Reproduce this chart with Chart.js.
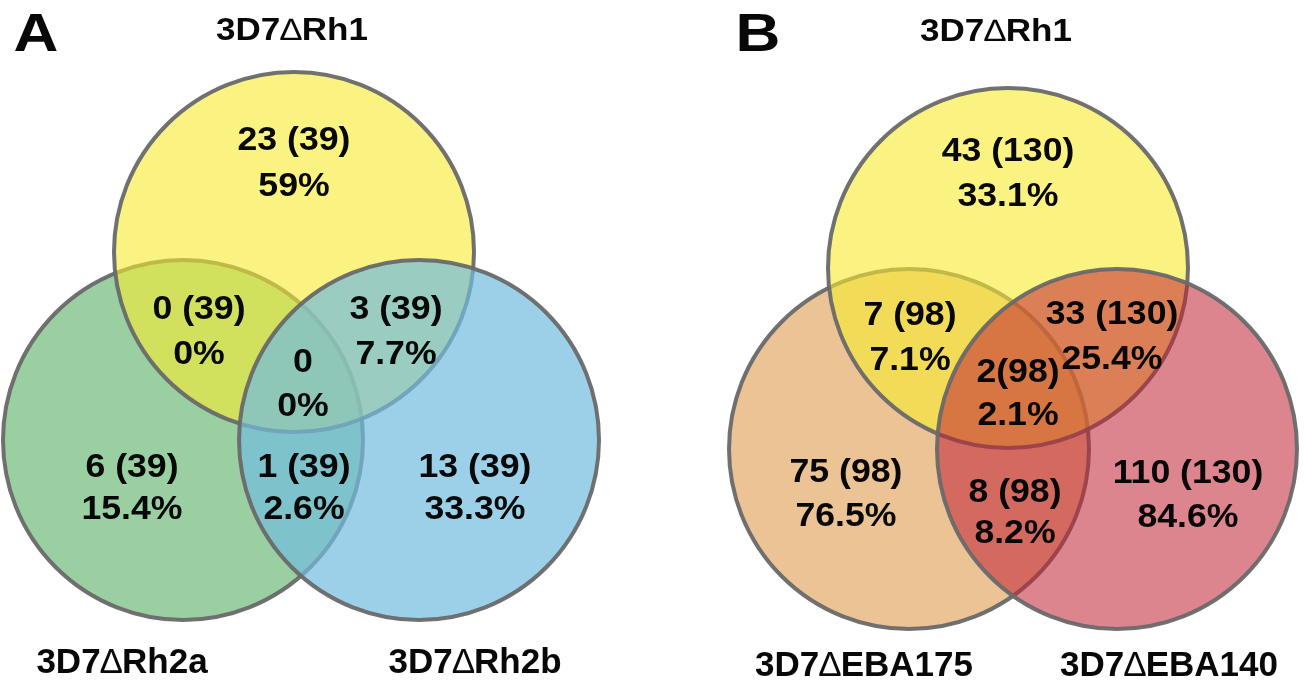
<!DOCTYPE html>
<html>
<head>
<meta charset="utf-8">
<script src="https://cdn.jsdelivr.net/npm/chart.js@4"></script>
<style>
  html, body { margin: 0; padding: 0; background: #fff; }
  #wrap { width: 1305px; height: 686px; }
</style>
</head>
<body>
<div id="wrap"><canvas id="venn"></canvas></div>
<script>
// set names: top, left, right
const setsA = ['3D7∆Rh1', '3D7∆Rh2a', '3D7∆Rh2b'];
const setsB = ['3D7∆Rh1', '3D7∆EBA175', '3D7∆EBA140'];

// regions: top only, top+left, top+right, all three, left only, left+right, right only
const countsA = [23, 0, 3, 0, 6, 1, 13];
const totalsA = [39, 39, 39, null, 39, 39, 39];
const percentA = ['59%', '0%', '7.7%', '0%', '15.4%', '2.6%', '33.3%'];

const countsB = [43, 7, 33, 2, 75, 8, 110];
const totalsB = [130, 98, 130, 98, 98, 98, 130];
const percentB = ['33.1%', '7.1%', '25.4%', '2.1%', '76.5%', '8.2%', '84.6%'];

// layout (chart units = canvas px, via hidden linear scales)
const R = 180;
const FONT = '"Liberation Sans", Arial, Helvetica, sans-serif';
const panels = [
  {
    letter: 'A', letterAt: [36, 32],
    sets: setsA, counts: countsA, totals: totalsA, pct: percentA,
    centers: [[294, 252], [183, 440], [419, 440]],
    fills: ['rgba(247,235,47,0.6)', 'rgb(154,207,162)', 'rgba(114,188,222,0.7)'],
    nameAt: [[292, 29], [122, 660], [475, 660]],
    textAt: [[294, 138, 184], [199, 307, 352], [396, 307, 352], [303, 360, 404],
             [132, 465, 507], [304, 465, 507], [475, 465, 507]],
    gap: ' '
  },
  {
    letter: 'B', letterAt: [758, 32],
    sets: setsB, counts: countsB, totals: totalsB, pct: percentB,
    centers: [[1008, 268], [909, 449], [1117, 449]],
    fills: ['rgba(247,235,47,0.6)', 'rgb(235,195,148)', 'rgba(193,33,51,0.55)'],
    nameAt: [[996, 30], [864, 663], [1169, 663]],
    textAt: [[1008, 149, 194], [910, 313, 358], [1112, 312, 357], [1018, 370, 413],
             [846, 470, 514], [1015, 490, 531], [1188, 471, 515]],
    gap: ' '
  }
];

// one scatter point per circle, radius taken from the x scale
const datasets = [];
panels.forEach(p => {
  p.centers.forEach((c, i) => {
    datasets.push({
      label: p.sets[i],
      data: [{ x: c[0], y: c[1] }],
      order: [2, 3, 1][i],
      pointStyle: 'circle',
      pointRadius: ctx => {
        const s = ctx.chart.scales.x;
        return s.getPixelForValue(R) - s.getPixelForValue(0);
      },
      pointBackgroundColor: p.fills[i],
      pointBorderColor: 'rgba(105,105,105,0.95)',
      pointBorderWidth: 4,
      clip: false
    });
  });
});

function drawText(ctx, parts, x, y, size, stretch) {
  ctx.save();
  let w = 0;
  parts.forEach(p => {
    ctx.font = p[1] + ' ' + size + 'px ' + FONT;
    p.push(ctx.measureText(p[0]).width);
    w += p[2];
  });
  ctx.translate(x, y + size * 0.358);
  ctx.scale(stretch, 1);
  ctx.fillStyle = '#080808';
  ctx.textBaseline = 'alphabetic';
  ctx.textAlign = 'left';
  let cx = -w / 2;
  parts.forEach(p => {
    ctx.font = p[1] + ' ' + size + 'px ' + FONT;
    ctx.fillText(p[0], cx, 0);
    cx += p[2];
  });
  ctx.restore();
}

function nameParts(name) {
  const bits = name.split('∆');
  return [[bits[0], 'bold'], ['∆', 'normal'], [bits[1], 'bold']];
}

const vennLabels = {
  id: 'vennLabels',
  afterDatasetsDraw(chart) {
    const ctx = chart.ctx;
    const sx = chart.scales.x, sy = chart.scales.y;
    panels.forEach(p => {
      drawText(ctx, [[p.letter, 'bold']], sx.getPixelForValue(p.letterAt[0]), sy.getPixelForValue(p.letterAt[1]), 54, 1.15);
      p.sets.forEach((name, i) => {
        const at = p.nameAt[i];
        drawText(ctx, nameParts(name), sx.getPixelForValue(at[0]), sy.getPixelForValue(at[1]),
          i === 0 ? 31 : 35, i === 0 ? 1.13 : 1.0);
      });
      p.counts.forEach((n, i) => {
        const at = p.textAt[i];
        let line1 = String(n);
        // the triple overlap of panel B is printed without a space
        if (p.totals[i] !== null) line1 += (p.letter === 'B' && i === 3 ? '' : p.gap) + '(' + p.totals[i] + ')';
        const x = sx.getPixelForValue(at[0]);
        drawText(ctx, [[line1, 'bold']], x, sy.getPixelForValue(at[1]), 33, 1.08);
        drawText(ctx, [[p.pct[i], 'bold']], x, sy.getPixelForValue(at[2]), 33, 1.08);
      });
    });
  }
};

new Chart(document.getElementById('venn'), {
  type: 'scatter',
  data: { datasets: datasets },
  options: {
    responsive: true,
    maintainAspectRatio: false,
    animation: false,
    events: [],
    layout: { padding: 0 },
    plugins: { legend: { display: false }, tooltip: { enabled: false } },
    scales: {
      x: { type: 'linear', min: 0, max: 1305, display: false },
      y: { type: 'linear', min: 0, max: 686, reverse: true, display: false }
    }
  },
  plugins: [vennLabels]
});
</script>
</body>
</html>
